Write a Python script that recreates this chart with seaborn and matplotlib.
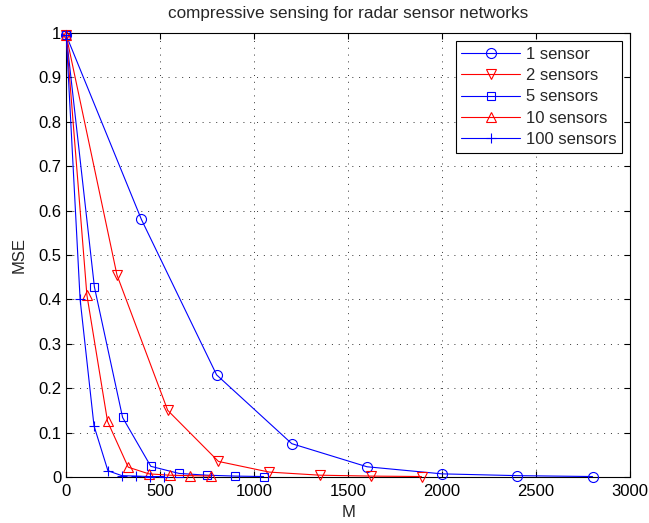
import numpy as np
import pandas as pd
import matplotlib
matplotlib.use("Agg")
import matplotlib.pyplot as plt
import seaborn as sns

# Number of measurements M for each network size
m_1 = [0, 400, 800, 1200, 1600, 2000, 2400, 2800]
m_2 = [0, 270, 540, 810, 1080, 1350, 1620, 1890]
m_5 = [0, 150, 300, 450, 600, 750, 900, 1050]
m_10 = [0, 110, 220, 330, 440, 550, 660, 770]
m_100 = [0, 74, 148, 222, 296, 370, 444, 518]

# Mean squared error of the reconstruction
mse_1 = [0.995, 0.58, 0.23, 0.075, 0.023, 0.007, 0.003, 0.001]
mse_2 = [0.995, 0.455, 0.15, 0.035, 0.011, 0.004, 0.002, 0.001]
mse_5 = [0.995, 0.428, 0.134, 0.024, 0.008, 0.004, 0.002, 0.001]
mse_10 = [0.995, 0.41, 0.125, 0.022, 0.007, 0.004, 0.003, 0.002]
mse_100 = [0.995, 0.40, 0.115, 0.014, 0.003, 0.002, 0.001, 0.001]

labels = ["1 sensor", "2 sensors", "5 sensors", "10 sensors", "100 sensors"]
xs = [m_1, m_2, m_5, m_10, m_100]
ys = [mse_1, mse_2, mse_5, mse_10, mse_100]
colors = ["#0000ff", "#ff0000", "#0000ff", "#ff0000", "#0000ff"]
markers = ["o", "v", "s", "^", "+"]
msizes = [7.2, 7.4, 6.4, 7.4, 7.0]

sns.set_style("ticks")
plt.rcParams["font.family"] = ["Liberation Sans", "DejaVu Sans"]
plt.rcParams["xtick.direction"] = "in"
plt.rcParams["ytick.direction"] = "in"

fig = plt.figure(figsize=(6.49, 5.23), dpi=100)
ax = fig.add_axes([0.102, 0.088, 0.869, 0.849])

for x, y, lab, c, mk, ms in zip(xs, ys, labels, colors, markers, msizes):
    df = pd.DataFrame({"M": x, "MSE": y})
    sns.lineplot(data=df, x="M", y="MSE", ax=ax, color=c, marker=mk,
                 markersize=ms, markerfacecolor="none",
                 markeredgecolor=c, markeredgewidth=0.8, linewidth=0.8,
                 label=lab, clip_on=False, zorder=3)
    line = ax.lines[-1]
    line.set_markeredgecolor(c)
    line.set_markerfacecolor("none")
    line.set_color(c)

ax.set_xlim(0, 3000)
ax.set_ylim(0, 1)
ax.set_xticks(np.arange(0, 3001, 500))
ax.set_yticks(np.round(np.arange(0, 1.01, 0.1), 1))
ax.set_yticklabels(["0", "0.1", "0.2", "0.3", "0.4", "0.5", "0.6", "0.7", "0.8", "0.9", "1"])
ax.tick_params(axis="both", which="both", direction="in", top=True, right=True,
               length=4, width=0.8, labelsize=12, colors="black")
ax.tick_params(axis="x", pad=5)
ax.tick_params(axis="y", pad=3.5)
for sp in ax.spines.values():
    sp.set_visible(True)
    sp.set_color("black")
    sp.set_linewidth(0.8)
ax.grid(True, linestyle=(0, (1, 6)), color="#333333", linewidth=0.7)
ax.set_axisbelow(True)

ax.set_xlabel("M", fontsize=12, labelpad=4.5)
ax.set_ylabel("MSE", fontsize=12, labelpad=8)
ax.set_title("compressive sensing for radar sensor networks", fontsize=12.3, pad=10.5)

leg = ax.legend(loc="upper right", fontsize=12, frameon=True, fancybox=False,
                edgecolor="black", framealpha=1, borderaxespad=0.48,
                handlelength=3.5, handletextpad=0.36, labelspacing=0.38,
                borderpad=0.35)
leg.get_frame().set_linewidth(0.8)
for h, c in zip(leg.legend_handles, colors):
    h.set_color(c)
    h.set_markeredgecolor(c)
    h.set_markerfacecolor("none")

fig.savefig("out.png", dpi=100)
